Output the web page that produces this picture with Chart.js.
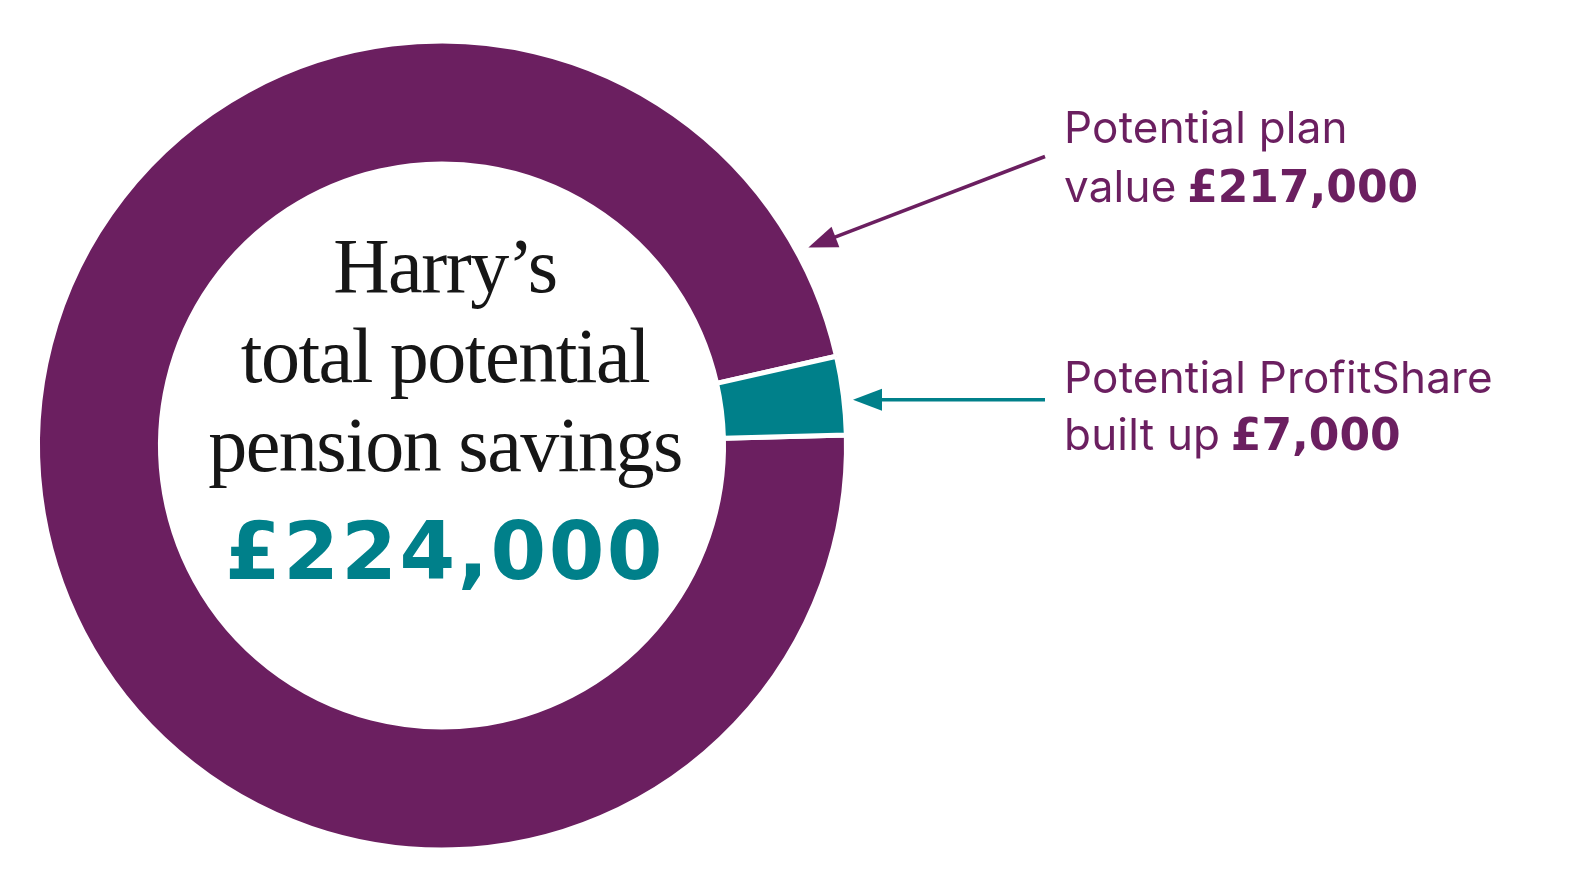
<!DOCTYPE html>
<html>
<head>
<meta charset="utf-8">
<script src="https://cdn.jsdelivr.net/npm/chart.js@4.4.1/dist/chart.umd.min.js"></script>
<style>
  html, body { margin: 0; padding: 0; background: #ffffff; }
  body { width: 1573px; height: 884px; position: relative; overflow: hidden; }
  #wrap { position: absolute; left: 0; top: 0; width: 1573px; height: 884px; }
  .t { position: absolute; white-space: nowrap; line-height: 1; }
  .serif { font-family: "Liberation Serif", "DejaVu Serif", serif; font-size: 78px; color: #161616; letter-spacing: -1.5px; left: 45px; width: 800px; text-align: center; }
  .big { font-family: "DejaVu Sans", sans-serif; font-weight: bold; font-size: 80px; color: #00808a; letter-spacing: 2.5px; left: 45px; width: 800px; text-align: center; }
  .lab { font-family: Inter, "Noto Sans", sans-serif; font-size: 44px; color: #6b1f60; letter-spacing: 0.2px; left: 1064px; }
  .lab b { font-family: "DejaVu Sans", sans-serif; font-weight: bold; line-height: 0; letter-spacing: 0; margin-left: -2px; }
</style>
</head>
<body>
<div id="wrap"><canvas id="c"></canvas></div>

<div class="t serif" style="top:227px;">Harry’s</div>
<div class="t serif" style="top:317px;">total potential</div>
<div class="t serif" style="top:406px;">pension savings</div>
<div class="t big" style="top:512px;">£224,000</div>

<div class="t lab" style="top:105px;">Potential plan</div>
<div class="t lab" style="top:164px;">value <b>£217,000</b></div>
<div class="t lab" style="top:355px;">Potential ProfitShare</div>
<div class="t lab" style="top:412px;">built up <b>£7,000</b></div>

<script>
// ---- data ----
const categories = ['Potential plan value', 'Potential ProfitShare built up'];
const values = [217000, 7000];
const segmentColors = ['#6b1f60', '#00808a'];

// ---- annotation arrows (drawn relative to the doughnut geometry) ----
const arrowPlugin = {
  id: 'arrows',
  afterDatasetsDraw(chart) {
    const ctx = chart.ctx;
    const meta = chart.getDatasetMeta(0);
    const tealArc = meta.data[1];
    const cx = tealArc.x, cy = tealArc.y;
    const R = tealArc.outerRadius;

    function arrow(x1, y1, x2, y2, color) {
      const ang = Math.atan2(y2 - y1, x2 - x1);
      const headLen = 29, headHalf = 11;
      const bx = x2 - Math.cos(ang) * headLen, by = y2 - Math.sin(ang) * headLen;
      ctx.save();
      ctx.strokeStyle = color;
      ctx.fillStyle = color;
      ctx.lineWidth = 3.5;
      ctx.lineCap = 'butt';
      ctx.beginPath();
      ctx.moveTo(x1, y1);
      ctx.lineTo(bx + Math.cos(ang) * 4, by + Math.sin(ang) * 4);
      ctx.stroke();
      ctx.beginPath();
      ctx.moveTo(x2, y2);
      ctx.lineTo(bx - Math.sin(ang) * headHalf, by + Math.cos(ang) * headHalf);
      ctx.lineTo(bx + Math.sin(ang) * headHalf, by - Math.cos(ang) * headHalf);
      ctx.closePath();
      ctx.fill();
      ctx.restore();
    }

    // teal arrow: points into the ProfitShare segment
    const aT = tealArc.startAngle + 0.57 * (tealArc.endAngle - tealArc.startAngle);
    const tx = cx + Math.cos(aT) * (R + 9);
    const ty = cy + Math.sin(aT) * (R + 9);
    arrow(1045, ty, tx, ty, segmentColors[1]);

    // purple arrow: points to the plan-value segment, upper right
    const pAng = -28.4 * Math.PI / 180;
    const px = cx + Math.cos(pAng) * (R + 12);
    const py = cy + Math.sin(pAng) * (R + 12);
    arrow(1045, 156.5, px, py, segmentColors[0]);
  }
};

new Chart(document.getElementById('c'), {
  type: 'doughnut',
  data: {
    labels: categories,
    datasets: [{
      data: values,
      backgroundColor: segmentColors,
      borderColor: '#ffffff',
      borderWidth: 5,
      hoverOffset: 0
    }]
  },
  options: {
    responsive: true,
    maintainAspectRatio: false,
    animation: false,
    events: [],
    rotation: 88.5,
    cutout: '69.6%',
    layout: { padding: { left: 34, right: 723, top: 38.5, bottom: 31.5 } },
    plugins: {
      legend: { display: false },
      tooltip: { enabled: false }
    }
  },
  plugins: [arrowPlugin]
});
</script>
</body>
</html>
